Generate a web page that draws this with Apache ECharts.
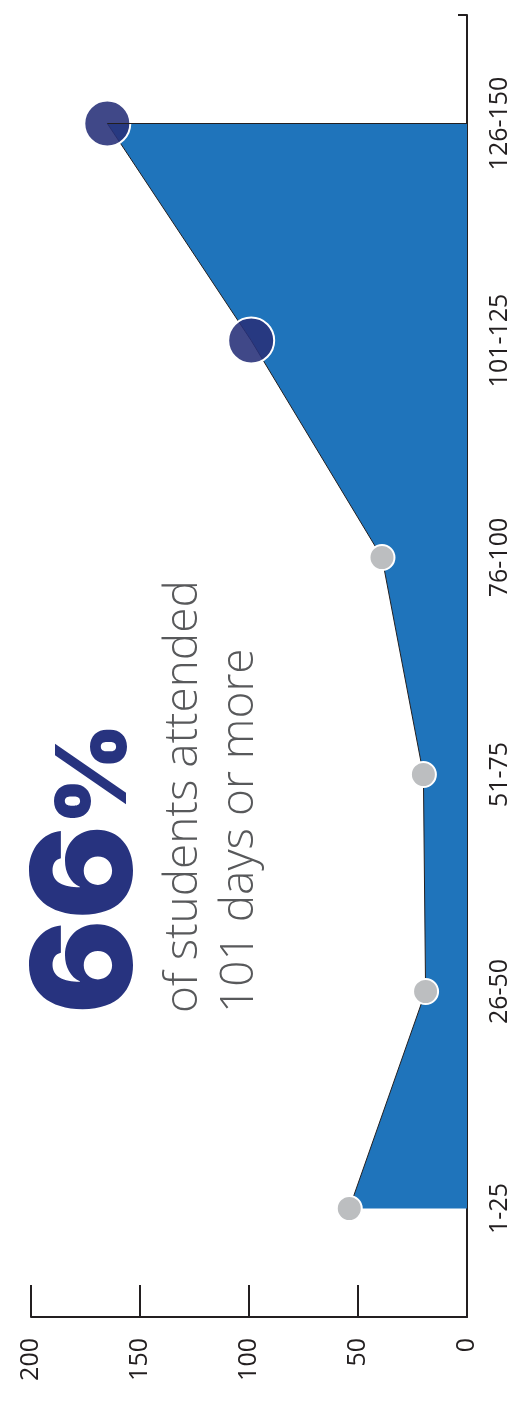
<!DOCTYPE html>
<html>
<head>
<meta charset="utf-8">
<script src="https://cdn.jsdelivr.net/npm/echarts@6/dist/echarts.min.js"></script>
<style>
  html, body { margin: 0; padding: 0; background: #fff; }
  #chart { width: 512px; height: 1401px; }
</style>
</head>
<body>
<div id="chart"></div>
<script>
// days attended buckets (bottom to top) and number of students
const categories = ['1-25', '26-50', '51-75', '76-100', '101-125', '126-150'];
const students = [54, 19, 20, 39, 99, 165];
const valueTicks = [0, 50, 100, 150, 200];
const bigNumber = '66';
const subtitle = ['of students attended', '101 days or more'];
const highlightFrom = '101-125';   // buckets drawn with the big navy dots

const chart = echarts.init(document.getElementById('chart'));
const ink = '#231f20';
const hiIndex = categories.indexOf(highlightFrom);

const seriesData = students.map((v, i) => {
    const big = i >= hiIndex;
    return {
        value: v,
        symbolSize: big ? 46 : 25,
        itemStyle: {
            color: big ? 'rgba(40,49,121,0.89)' : '#bcbec0',
            borderColor: '#fff',
            borderWidth: 2,
            opacity: 1
        }
    };
});
const last = categories.length - 1;

const option = {
    animation: false,
    grid: { left: 31, right: 41, top: 15, bottom: 84 },
    xAxis: {
        type: 'value',
        inverse: true,
        min: valueTicks[0],
        max: valueTicks[valueTicks.length - 1],
        interval: valueTicks[1] - valueTicks[0],
        axisLine: { show: true, lineStyle: { color: ink, width: 2 } },
        axisTick: { show: true, inside: true, length: 32, lineStyle: { color: ink, width: 2 } },
        axisLabel: { rotate: 90, margin: 21, fontSize: 25, color: ink, fontFamily: 'Open Sans' },
        splitLine: { show: false }
    },
    yAxis: {
        type: 'category',
        position: 'right',
        data: categories,
        boundaryGap: true,
        axisLine: { show: true, lineStyle: { color: ink, width: 2 } },
        axisTick: { show: true, inside: true, length: 9, lineStyle: { color: ink, width: 2 } },
        axisLabel: { rotate: 90, margin: 20, fontSize: 25, color: ink, fontFamily: 'Open Sans' }
    },
    series: [{
        type: 'line',
        data: seriesData,
        symbol: 'circle',
        showAllSymbol: true,
        lineStyle: { color: ink, width: 1 },
        areaStyle: { color: '#1f74bb', opacity: 1 },
        markLine: {
            silent: true,
            symbol: 'none',
            label: { show: false },
            lineStyle: { color: ink, width: 1, type: 'solid' },
            data: [[
                { coord: [students[last], categories[last]] },
                { coord: [0, categories[last]] }
            ]]
        },
        z: 3
    }],
    graphic: [
        {
            // big figure, rotated to read bottom-up like the axis labels
            type: 'text',
            x: 174, y: 1014,
            rotation: Math.PI / 2,
            style: {
                text: '{n|' + bigNumber + '}{p|%}',
                align: 'left',
                verticalAlign: 'bottom',
                rich: {
                    n: { fontSize: 140, fontWeight: 900, fontFamily: 'Inter', fill: '#27337f', padding: [0, 0, 14, 0] },
                    p: { fontSize: 98, fontWeight: 900, fontFamily: 'Inter', fill: '#27337f' }
                }
            }
        },
        {
            type: 'text',
            x: 268, y: 1013,
            rotation: Math.PI / 2,
            style: {
                text: subtitle.join('\n'),
                align: 'left',
                verticalAlign: 'bottom',
                fontSize: 46,
                lineHeight: 56,
                fontWeight: 300,
                fontFamily: 'Open Sans',
                fill: '#58595b'
            }
        }
    ]
};

chart.setOption(option);
</script>
</body>
</html>
